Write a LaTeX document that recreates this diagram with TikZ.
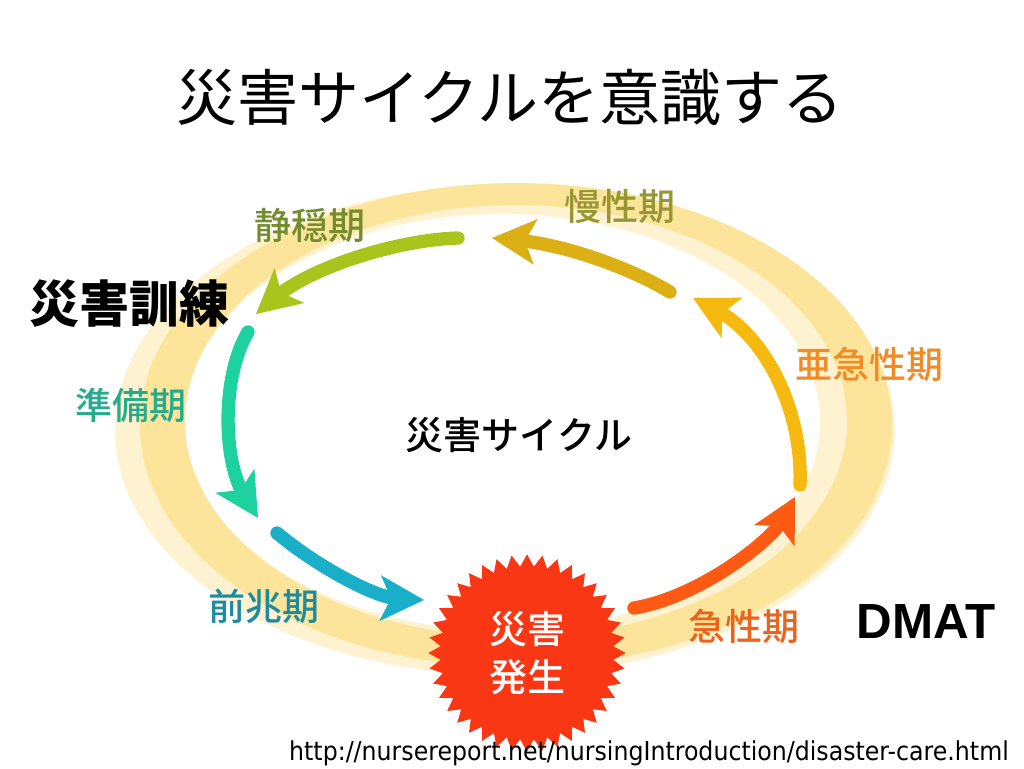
\documentclass[tikz,border=0pt]{standalone}
\usepackage{fontspec}
\usepackage{xcolor}
\usepackage{tikz}
\usetikzlibrary{shapes.geometric}
\setsansfont{Liberation Sans}
\newfontfamily\jp{Noto Sans CJK JP}
\newfontfamily\jpmed{Noto Sans CJK JP Medium}
\newfontfamily\urlfont{DejaVu Sans}[FakeStretch=0.91]

\definecolor{ringpale}{RGB}{254,242,208}
\definecolor{ringband}{RGB}{252,229,155}
\definecolor{seionarrow}{RGB}{170,196,30}
\definecolor{junbiarrow}{RGB}{30,210,160}
\definecolor{zenchoarrow}{RGB}{25,175,200}
\definecolor{kyuseiarrow}{RGB}{255,90,20}
\definecolor{akyuseiarrow}{RGB}{245,185,15}
\definecolor{manseiarrow}{RGB}{220,175,20}
\definecolor{burst}{RGB}{250,55,20}
\definecolor{seiontext}{RGB}{115,140,45}
\definecolor{manseitext}{RGB}{150,150,50}
\definecolor{akyuseitext}{RGB}{240,140,40}
\definecolor{junbitext}{RGB}{40,170,140}
\definecolor{zenchotext}{RGB}{30,140,160}
\definecolor{kyuseitext}{RGB}{235,100,30}

\begin{document}
\begin{tikzpicture}[x=0.75pt,y=0.75pt,yscale=-1,xscale=1,
  cyc/.style={line width=10pt, line cap=round, shorten >=19pt},
  phase/.style={inner sep=0.75pt, font=\jpmed\fontsize{27.75}{30}\selectfont}]
\useasboundingbox (0,0) rectangle (1024,768);

%Shape: Ellipse
\fill [ringpale, even odd rule] (505,430) ellipse [x radius=390, y radius=245] (502,422) ellipse [x radius=318, y radius=208];
%Shape: Ellipse
\fill [ringband, even odd rule] (516,425) ellipse [x radius=376, y radius=242] (516,421) ellipse [x radius=331, y radius=216];

\coordinate (s1) at (458,238); \coordinate (t1) at (256,314);
\coordinate (s2) at (248,332); \coordinate (t2) at (258,518);
\coordinate (s3) at (277,533); \coordinate (t3) at (424,600);
\coordinate (s4) at (634,608); \coordinate (t4) at (795,497);
\coordinate (s5) at (800,485); \coordinate (t5) at (693,298);
\coordinate (s6) at (670,292); \coordinate (t6) at (492,238);

%Curve Lines
\draw [cyc, seionarrow] (s1) .. controls (395,240) and (310,268) .. (t1);
\fill [seionarrow, shift={(256,314)}, rotate=319.6] (0,0) -- (44,-23) -- (33,0) -- (44,23) -- cycle;
%Curve Lines
\draw [cyc, junbiarrow] (s2) .. controls (222,375) and (222,460) .. (t2);
\fill [junbiarrow, shift={(258,518)}, rotate=238.2] (0,0) -- (44,-23) -- (33,0) -- (44,23) -- cycle;
%Curve Lines
\draw [cyc, zenchoarrow] (s3) .. controls (315,565) and (375,598) .. (t3);
\fill [zenchoarrow, shift={(424,600)}, rotate=182.3] (0,0) -- (44,-23) -- (33,0) -- (44,23) -- cycle;
%Curve Lines
\draw [cyc, kyuseiarrow] (s4) .. controls (700,597) and (772,540) .. (t4);
\fill [kyuseiarrow, shift={(795,497)}, rotate=118] (0,0) -- (44,-23) -- (33,0) -- (44,23) -- cycle;
%Curve Lines
\draw [cyc, akyuseiarrow] (s5) .. controls (803,410) and (765,335) .. (t5);
\fill [akyuseiarrow, shift={(693,298)}, rotate=27.2] (0,0) -- (44,-23) -- (33,0) -- (44,23) -- cycle;
%Curve Lines
\draw [cyc, manseiarrow] (s6) .. controls (625,265) and (560,244) .. (t6);
\fill [manseiarrow, shift={(492,238)}, rotate=5] (0,0) -- (44,-23) -- (33,0) -- (44,23) -- cycle;

%Shape: Star
\draw (527,653) node (onset) [star, star points=40, star point ratio=1.14, minimum size=148pt, fill=burst, inner sep=0pt, text=white, align=center, font=\jpmed\fontsize{28.5}{36}\selectfont] {災害\\発生};

% Text Node
\draw (510,97) node (title) [inner sep=0.75pt] {\jp\fontsize{45.75}{50}\selectfont 災害サイクルを意識する};
% Text Node
\draw (129,304) node (drill) [inner sep=0.75pt] {\jp\bfseries\fontsize{37.5}{40}\selectfont 災害訓練};
% Text Node
\draw (519,435) node (cycle) [inner sep=0.75pt] {\jpmed\fontsize{28.5}{30}\selectfont 災害サイクル};
% Text Node
\draw (310,225) node (seion) [phase, text=seiontext] {静穏期};
% Text Node
\draw (620,207) node (mansei) [phase, text=manseitext] {慢性期};
% Text Node
\draw (869,364) node (akyusei) [phase, text=akyuseitext] {亜急性期};
% Text Node
\draw (131,405) node (junbi) [phase, text=junbitext] {準備期};
% Text Node
\draw (264,606) node (zencho) [phase, text=zenchotext] {前兆期};
% Text Node
\draw (744,626) node (kyusei) [phase, text=kyuseitext] {急性期};
% Text Node
\draw (926,622) node (dmat) [inner sep=0.75pt] {\sffamily\bfseries\fontsize{37}{40}\selectfont DMAT};
% Text Node
\draw (649,753) node (url) [inner sep=0.75pt] {\urlfont\fontsize{19.5}{22}\selectfont http://nursereport.net/nursingIntroduction/disaster-care.html};

\end{tikzpicture}
\end{document}
